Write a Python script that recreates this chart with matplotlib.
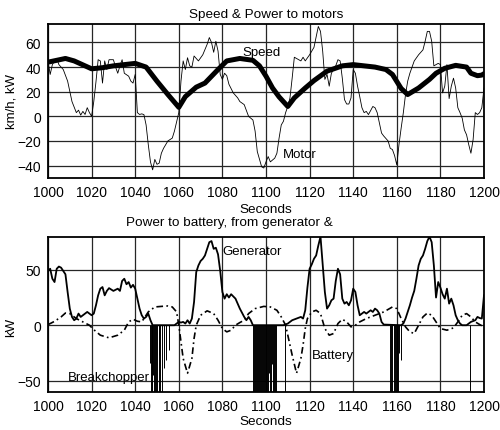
import matplotlib
matplotlib.use('Agg')
import matplotlib.pyplot as plt

plt.rcParams['font.family'] = ['Liberation Sans', 'DejaVu Sans']

# --- top panel: speed (km/h) and motor power (kW)
speed_t = [1000, 1008, 1012, 1020, 1025, 1030, 1040, 1045, 1050, 1055, 1060, 1063, 1068, 1072,
           1078, 1082, 1088, 1094, 1097, 1100, 1103, 1106, 1110, 1113, 1118, 1122, 1128, 1135,
           1140, 1145, 1150, 1155, 1158, 1162, 1165, 1170, 1175, 1178, 1182, 1187, 1192, 1194,
           1197, 1199, 1200]
speed_v = [44, 47, 45, 38.6, 39.5, 41, 43, 40, 28.5, 17.7, 7.3, 16, 23.7, 27,
           38, 45, 47, 45.5, 41, 32.6, 23, 15.8, 8, 15, 23, 29, 36.7, 41,
           42, 41, 40, 38, 34, 22.6, 17.7, 23, 30, 35, 39, 41.4, 40, 35,
           33, 33.5, 34.6]

motor_t = [1000, 1001, 1002, 1003, 1004, 1005, 1007, 1009, 1011, 1013, 1014, 1015, 1016, 1017,
           1018, 1019, 1020, 1021, 1022, 1023, 1024, 1025, 1026, 1027, 1028, 1030, 1031, 1032,
           1033, 1034, 1035, 1037, 1038, 1039, 1040, 1041, 1042, 1043, 1044, 1045, 1046, 1047,
           1048, 1049, 1050, 1051, 1052, 1053, 1055, 1057, 1058, 1060, 1061, 1062, 1063, 1064,
           1065, 1066, 1067, 1069, 1071, 1073, 1074, 1075, 1076, 1077, 1078, 1079, 1080, 1081,
           1082, 1083, 1085, 1087, 1088, 1090, 1092, 1094, 1095, 1096, 1098, 1099, 1100, 1101,
           1102, 1104, 1105, 1106, 1107, 1108, 1109, 1110, 1111, 1112, 1113, 1115, 1116, 1117,
           1118, 1120, 1122, 1124, 1125, 1126, 1127, 1128, 1129, 1130, 1132, 1133, 1134, 1135,
           1136, 1137, 1138, 1139, 1140, 1141, 1142, 1143, 1144, 1145, 1146, 1147, 1149, 1150,
           1151, 1152, 1153, 1154, 1155, 1156, 1157, 1158, 1159, 1160, 1161, 1162, 1163, 1164,
           1165, 1166, 1168, 1170, 1172, 1173, 1174, 1175, 1176, 1177, 1178, 1179, 1180, 1181,
           1182, 1183, 1184, 1185, 1186, 1187, 1188, 1189, 1190, 1191, 1192, 1193, 1194, 1195,
           1196, 1197, 1198, 1199, 1200]
motor_v = [45, 34, 42, 45, 47, 42, 38, 28.6, 12, 3, 5, 1, 4, 1.5,
           7, 3, 0, 12, 28, 46, 45, 27, 45, 38, 46, 46, 40, 35,
           41, 46, 35, 32.6, 28.6, 27, 34, 3, 1.5, 2, 1.4, -7, -23, -37,
           -43.5, -35, -39, -38, -30, -26, -20, -17.7, -12, 3, 28.6, 45, 38, 47.6,
           41, 40, 49, 45, 50, 58.5, 64, 60, 52, 61, 53, 34, 30, 35,
           33, 26, 19, 15, 12, 9.5, 0, -3, -12, -28.6, -41, -42, -37, -32.7,
           -37, -34, -30, -17.7, -7, -4, 3, 8, 15, 31, 48, 46, 45, 48,
           45, 50, 56, 73, 69, 53, 30, 34, 24.5, 35, 41, 46, 45, 31,
           13.6, 10, 10, 15, 38, 35, 24.5, 16, 7, 3, 4, 1.4, 8, 7,
           3, -5.4, -13.6, -16, -18, -20, -26, -27, -32, -39.5, -23, -9.5, 3, 17.7,
           28.6, 35, 45, 50, 54, 61, 69, 69, 61, 41, 42, 43, 42, 19,
           24.5, 42, 14.4, 24.5, 31, 23, 7, 3, -1.5, -11, -15, -23, -30, -19,
           3, 1.5, 3, 7, 23]

# --- bottom panel: generator, battery and breakchopper power (kW)
gen_t = [1000, 1001, 1002, 1003, 1004, 1005, 1006, 1007, 1008, 1009, 1010, 1011, 1012, 1013,
         1014, 1015, 1016, 1017, 1018, 1019, 1020, 1021, 1022, 1023, 1024, 1025, 1026, 1027,
         1028, 1030, 1032, 1033, 1034, 1035, 1036, 1037, 1038, 1039, 1040, 1041, 1042, 1043,
         1044, 1045, 1046, 1047, 1048, 1058, 1059, 1060, 1061, 1062, 1063, 1064, 1065, 1066,
         1067, 1068, 1069, 1070, 1071, 1072, 1073, 1074, 1075, 1076, 1077, 1078, 1079, 1080,
         1081, 1082, 1083, 1084, 1086, 1088, 1090, 1091, 1092, 1093, 1094, 1108, 1110, 1112,
         1114, 1116, 1117, 1118, 1119, 1120, 1121, 1122, 1123, 1124, 1125, 1126, 1127, 1128,
         1129, 1130, 1131, 1132, 1133, 1134, 1135, 1136, 1137, 1138, 1139, 1140, 1141, 1142,
         1143, 1144, 1145, 1146, 1147, 1148, 1149, 1150, 1151, 1152, 1153, 1154, 1162, 1163,
         1164, 1165, 1166, 1167, 1168, 1169, 1170, 1171, 1172, 1173, 1174, 1175, 1176, 1177,
         1178, 1179, 1180, 1181, 1182, 1183, 1184, 1185, 1186, 1187, 1188, 1189, 1190, 1192,
         1194, 1196, 1197, 1198, 1199, 1200]
gen_v = [49, 51, 42, 39, 51, 53, 52, 49, 46, 30, 15, 7.5, 4.5, 6,
         10.5, 7.5, 9, 10.5, 12, 10.5, 9, 10.5, 18, 27, 33, 34.5, 27, 31,
         33.5, 31, 33, 31, 40, 42, 37, 39, 34, 36.5, 33, 24, 15, 9,
         6, 7.5, 10.5, 4.5, 0, 0, 1.5, 3, 2.4, 3, 1.5, 4.5, 1.5, 6,
         21, 48, 54, 58, 60, 63, 69, 75, 76, 69, 70, 64, 49, 30,
         24, 28, 25, 28, 24, 15, 7.5, 4.5, 7.5, 4.5, 0, 0, 1.5, 4.5,
         6, 7.5, 6, 13.5, 34, 51, 55, 60, 63, 72, 80, 55, 30, 15,
         18, 22.5, 24, 40, 51, 46, 24, 19.5, 21, 18, 22.5, 33, 30, 18,
         9, 10.5, 12, 10.5, 12, 13.5, 12, 15, 13.5, 10.5, 3, 0.6, 0, 1.5,
         6, 12, 18, 25, 31, 42, 54, 60, 63, 69, 76, 80, 75, 54,
         25, 39, 34, 28, 24, 33, 19.5, 24, 18, 9, 4.5, 1.5, 0, 0,
         3, 4.5, 7.5, 6.5, 6, 27]

batt_t = [1000, 1003, 1006, 1008, 1010, 1013, 1016, 1019, 1021, 1024, 1028, 1032, 1035, 1037,
          1039, 1041, 1043, 1046, 1049, 1052, 1055, 1057, 1059, 1060, 1061, 1062, 1064, 1066,
          1067, 1068, 1070, 1073, 1076, 1078, 1080, 1082, 1084, 1086, 1088, 1090, 1092, 1095,
          1099, 1102, 1105, 1107, 1109, 1110, 1112, 1114, 1116, 1117, 1118, 1119, 1121, 1123,
          1125, 1127, 1129, 1131, 1133, 1135, 1137, 1139, 1141, 1143, 1146, 1150, 1154, 1158,
          1160, 1162, 1164, 1166, 1168, 1170, 1172, 1174, 1176, 1178, 1180, 1183, 1186, 1188,
          1190, 1192, 1194, 1196, 1198, 1200]
batt_v = [0.5, 3.5, 7.5, 11, 10.5, 6, 3, 0, -4, -9, -11.4, -9, -4.5, 3,
          5.4, 3.6, 3, 12, 16.5, 17, 17.4, 16.5, 12, 0, -15, -30, -43.4, -30,
          -12, 0, 9, 13, 10.5, 4.5, -3, -6, -4.5, 0, 2.4, 4.5, 10.5, 15,
          17, 16.5, 13.5, 7.5, 0, -9, -27, -43.4, -30, -18, -3, 6, 12, 13.5,
          10.5, -3, -9, -7.5, 1.5, 5.4, 3, -1.5, 0, 3, 6, 9, 12, 16.5,
          15, 6, -1.5, -6, -7.5, 0, 7.5, 11, 9, 3, -3, -4.5, -2.4, 3,
          9, 10.5, 7.5, 3, 0.6, -1.5]

brk_t = [1046.7, 1047.1, 1047.5, 1047.9, 1048.3, 1048.7, 1049.2, 1049.7, 1050.2, 1050.7, 1051.1,
         1051.6, 1052.1, 1053.0, 1054.0, 1055.5,
         1094.0, 1094.5, 1095.0, 1095.4, 1095.9, 1096.4, 1096.8, 1097.3, 1097.8, 1098.2, 1098.7,
         1099.2, 1099.6, 1100.1, 1100.6, 1101.0, 1101.5, 1102.0, 1102.4, 1102.9, 1103.4, 1103.8,
         1104.3, 1104.8, 1108.7,
         1157.0, 1157.5, 1158.0, 1158.5, 1159.0, 1159.5, 1160.0, 1160.5, 1161.2, 1162.0, 1193.6]
brk_v = [-34, -80, -80, -80, -45, -80, -80, -80, -80, -80, -27,
         -80, -80, -39, -31, -22,
         -80, -80, -80, -80, -80, -80, -80, -80, -80, -80, -80,
         -80, -80, -80, -80, -80, -43, -80, -80, -35, -80, -80,
         -80, -80, -80,
         -80, -80, -80, -80, -80, -80, -80, -80, -25, -31, -80]

xticks = list(range(1000, 1201, 20))

fig = plt.figure(figsize=(5.0, 4.31), dpi=100)
ax1 = fig.add_axes([0.096, 0.585, 0.872, 0.357])
ax2 = fig.add_axes([0.096, 0.089, 0.872, 0.3596])

for ax in (ax1, ax2):
    ax.set_xlim(1000, 1200)
    ax.set_xticks(xticks)
    ax.grid(True, color='0.15', lw=0.9)
    ax.set_axisbelow(True)
    ax.tick_params(length=0, labelsize=10, pad=5)
    for s in ax.spines.values():
        s.set_linewidth(1.3)

# top
ax1.plot(motor_t, motor_v, color='k', lw=0.6)
ax1.plot(speed_t, speed_v, color='k', lw=3.6, solid_capstyle='round', solid_joinstyle='round')
ax1.set_ylim(-50, 75)
ax1.set_yticks([-40, -20, 0, 20, 40, 60])
ax1.set_title('Speed & Power to motors', fontsize=9.7, pad=5)
ax1.set_ylabel('km/h, kW', fontsize=9.5)
ax1.yaxis.set_label_coords(-0.071, 0.5)
ax1.set_xlabel('Seconds', fontsize=9.7, labelpad=3)
ax1.text(1089.4, 52, 'Speed', fontsize=9.5, va='center')
ax1.text(1107.8, -31, 'Motor', fontsize=9.5, va='center')

# bottom
ax2.vlines(brk_t, brk_v, 0, color='k', lw=0.7)
ax2.plot(batt_t, batt_v, color='k', lw=1.2, ls=(0, (4, 2, 1, 2)))
ax2.plot(gen_t, gen_v, color='k', lw=1.3)
ax2.set_ylim(-60, 80)
ax2.set_yticks([-50, 0, 50])
ax2.set_ylabel('kW', fontsize=9.5)
ax2.yaxis.set_label_coords(-0.071, 0.42)
ax2.set_xlabel('Seconds', fontsize=9.7, labelpad=2)
ax2.text(1079.8, 67, 'Generator', fontsize=9.5, va='center')
ax2.text(1121, -27, 'Battery', fontsize=9.5, va='center')
ax2.text(1009, -47, 'Breakchopper', fontsize=9.5, va='center')
fig.text(229 / 500, 1 - 223 / 431, 'Power to battery, from generator &', fontsize=9.7,
         ha='center', va='center')

fig.savefig('out.png', dpi=100)
